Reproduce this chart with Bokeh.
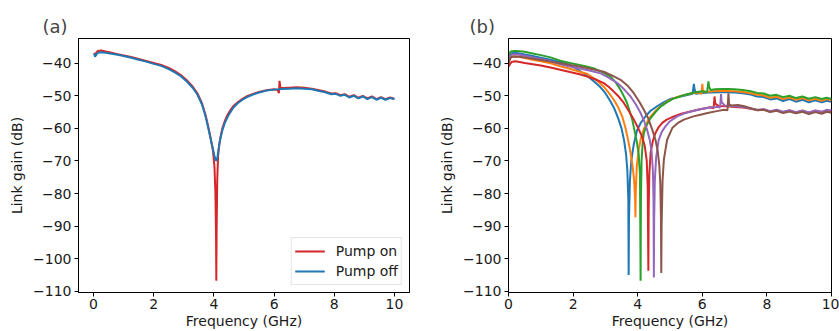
from bokeh.plotting import figure
from bokeh.layouts import row
from bokeh.models import FixedTicker, Range1d, Legend, LegendItem
from bokeh.embed import file_html
from bokeh.resources import INLINE

FONT = "DejaVu Sans"

# ---------------- data ----------------
x_ticks = [0, 2, 4, 6, 8, 10]
x_tick_labels = ["0", "2", "4", "6", "8", "10"]
y_ticks = [-110, -100, -90, -80, -70, -60, -50, -40]
y_tick_labels = ["\u2212110", "\u2212100", "\u221290", "\u221280", "\u221270", "\u221260", "\u221250", "\u221240"]

# panel (a)
a_off_x = [0.02, 0.05, 0.1, 0.15, 0.25, 0.4, 0.6, 0.8, 1.0, 1.25, 1.5, 1.75, 2.0, 2.25, 2.5, 2.7, 2.9, 3.1, 3.3,
           3.45, 3.6, 3.72, 3.82, 3.9, 3.97, 4.02, 4.06, 4.09, 4.12, 4.16, 4.21, 4.28, 4.36, 4.45, 4.55, 4.65, 4.8,
           4.95, 5.1, 5.3, 5.5, 5.75, 6.0, 6.25, 6.5, 6.75, 7.0, 7.25, 7.5, 7.7, 7.9, 8.05, 8.2, 8.35, 8.5, 8.65,
           8.8, 8.95, 9.1, 9.25, 9.4, 9.55, 9.7, 9.85, 10.0]
a_off_y = [-37.0, -38.0, -37.2, -36.8, -36.6, -36.8, -37.1, -37.4, -37.8, -38.3, -38.9, -39.5, -40.2, -40.8,
           -41.8, -42.8, -44.0, -45.6, -47.6, -49.6, -52.6, -56.2, -60.2, -63.6, -66.4, -68.6, -69.8, -69.9,
           -68.6, -66.0, -63.4, -60.6, -58.4, -56.6, -55.0, -53.6, -52.2, -51.2, -50.4, -49.6, -49.0, -48.4,
           -48.1, -47.9, -47.8, -47.7, -47.8, -48.0, -48.5, -48.9, -49.5, -49.4, -50.0, -49.7, -50.5, -50.0,
           -50.8, -50.2, -51.0, -50.4, -51.2, -50.6, -51.2, -50.7, -51.0]

a_on_x = [0.02, 0.05, 0.1, 0.15, 0.25, 0.4, 0.6, 0.8, 1.0, 1.25, 1.5, 1.75, 2.0, 2.25, 2.5, 2.7, 2.9, 3.1, 3.3,
          3.45, 3.6, 3.72, 3.82, 3.9, 3.97, 4.02, 4.05, 4.07, 4.08, 4.09, 4.11, 4.14, 4.18, 4.22, 4.28, 4.36,
          4.45, 4.55, 4.65, 4.8, 4.95, 5.1, 5.3, 5.5, 5.75, 6.0, 6.12, 6.16, 6.18, 6.21, 6.3, 6.5, 6.75, 7.0,
          7.25, 7.5, 7.7, 7.9, 8.05, 8.2, 8.35, 8.5, 8.65, 8.8, 8.95, 9.1, 9.25, 9.4, 9.55, 9.7, 9.85, 10.0]
a_on_y = [-36.8, -37.4, -36.6, -36.2, -36.1, -36.4, -36.8, -37.2, -37.6, -38.1, -38.7, -39.3, -39.9, -40.5,
          -41.4, -42.4, -43.6, -45.2, -47.2, -49.2, -52.2, -55.8, -59.8, -63.4, -67.0, -72.0, -80.0, -92.0,
          -106.8, -92.0, -76.0, -68.4, -64.8, -62.6, -60.0, -57.8, -55.9, -54.4, -53.1, -51.9, -50.9, -50.1,
          -49.4, -48.8, -48.3, -48.0, -48.2, -49.2, -45.4, -47.6, -47.6, -47.5, -47.4, -47.5, -47.8, -48.3,
          -48.7, -49.3, -49.2, -49.8, -49.5, -50.3, -49.8, -50.6, -50.0, -50.8, -50.2, -51.0, -50.4, -51.0,
          -50.5, -50.9]

# panel (b)
b_blue_x = [0.0, 0.05, 0.1, 0.2, 0.35, 0.5, 0.75, 1.0, 1.3, 1.6, 1.9, 2.2, 2.45, 2.65, 2.85, 3.0, 3.15, 3.28,
            3.4, 3.5, 3.58, 3.64, 3.68, 3.71, 3.72, 3.73, 3.76, 3.8, 3.88, 3.98, 4.1, 4.25, 4.4, 4.6, 4.8, 5.0,
            5.25, 5.5, 5.7, 5.74, 5.76, 5.8, 6.0, 6.25, 6.5, 6.75, 7.0, 7.25, 7.5, 7.7, 7.9, 8.1, 8.3, 8.5,
            8.7, 8.9, 9.1, 9.3, 9.5, 9.7, 9.85, 10.0]
b_blue_y = [-39.0, -37.5, -36.9, -36.8, -37.0, -37.3, -37.8, -38.3, -38.9, -39.6, -40.5, -42.3, -44.0, -45.6,
            -47.4, -49.2, -51.6, -54.0, -57.0, -60.0, -63.8, -68.0, -73.0, -82.0, -105.0, -88.0, -76.0, -70.0,
            -64.8, -60.6, -58.2, -56.2, -54.6, -53.2, -52.0, -51.0, -50.4, -49.8, -49.4, -46.3, -48.0, -49.4,
            -49.1, -49.0, -48.9, -48.9, -49.0, -49.2, -49.6, -50.2, -50.4, -51.1, -50.8, -51.6, -51.0, -51.8,
            -51.2, -52.0, -51.4, -52.0, -51.5, -51.8]

b_orange_x = [0.0, 0.05, 0.1, 0.2, 0.35, 0.5, 0.75, 1.0, 1.3, 1.6, 1.9, 2.2, 2.45, 2.7, 2.95, 3.1, 3.26, 3.4,
              3.52, 3.62, 3.7, 3.78, 3.84, 3.89, 3.92, 3.93, 3.94, 3.97, 4.03, 4.1, 4.19, 4.3, 4.4, 4.55, 4.7,
              4.9, 5.1, 5.35, 5.6, 5.85, 5.98, 6.0, 6.02, 6.1, 6.3, 6.5, 6.75, 7.0, 7.25, 7.5, 7.7, 7.9, 8.1,
              8.3, 8.5, 8.7, 8.9, 9.1, 9.3, 9.5, 9.7, 9.85, 10.0]
b_orange_y = [-40.0, -38.6, -38.0, -37.9, -38.1, -38.4, -38.9, -39.4, -40.0, -40.9, -41.7, -42.6, -43.3, -45.0,
              -47.2, -49.0, -51.2, -53.6, -56.3, -59.8, -63.4, -67.5, -71.5, -76.0, -82.0, -87.3, -80.0, -72.0,
              -66.5, -63.0, -60.2, -58.0, -56.3, -54.6, -53.3, -51.8, -50.8, -50.0, -49.4, -49.0, -49.4, -46.3,
              -48.4, -48.9, -48.6, -48.5, -48.5, -48.6, -48.8, -49.2, -49.7, -49.9, -50.6, -50.3, -51.0, -50.5,
              -51.2, -50.7, -51.4, -50.9, -51.5, -51.0, -51.3]

b_green_x = [0.0, 0.05, 0.1, 0.2, 0.35, 0.5, 0.75, 1.0, 1.3, 1.6, 1.9, 2.2, 2.45, 2.65, 2.9, 3.16, 3.32, 3.47,
             3.58, 3.67, 3.76, 3.83, 3.93, 3.98, 4.03, 4.07, 4.09, 4.1, 4.12, 4.15, 4.19, 4.28, 4.39, 4.55, 4.71,
             4.9, 5.07, 5.3, 5.5, 5.75, 6.0, 6.15, 6.19, 6.21, 6.25, 6.4, 6.6, 6.8, 7.0, 7.25, 7.5, 7.7, 7.9,
             8.1, 8.3, 8.5, 8.7, 8.9, 9.1, 9.3, 9.5, 9.7, 9.85, 10.0]
b_green_y = [-38.5, -36.6, -36.3, -36.2, -36.3, -36.5, -37.0, -37.5, -38.2, -39.2, -39.9, -40.5, -41.1, -41.6,
             -42.7, -44.1, -45.9, -48.2, -50.3, -52.2, -55.0, -57.3, -62.0, -64.5, -68.0, -74.0, -106.8, -82.0,
             -70.0, -65.0, -61.4, -59.0, -57.0, -55.0, -53.3, -52.0, -51.0, -50.2, -49.6, -49.0, -48.6, -48.8,
             -45.6, -47.2, -48.2, -48.0, -47.9, -47.9, -48.0, -48.2, -48.6, -49.1, -49.3, -50.0, -49.7, -50.4,
             -50.0, -50.7, -50.2, -50.9, -50.4, -51.0, -50.6, -51.0]

b_red_x = [0.0, 0.05, 0.1, 0.2, 0.35, 0.5, 0.75, 1.0, 1.3, 1.6, 1.9, 2.2, 2.44, 2.7, 2.95, 3.1, 3.26, 3.42, 3.57,
           3.72, 3.88, 4.0, 4.14, 4.22, 4.28, 4.31, 4.33, 4.34, 4.36, 4.4, 4.47, 4.55, 4.65, 4.76, 4.9, 5.12,
           5.35, 5.63, 5.9, 6.1, 6.25, 6.35, 6.38, 6.4, 6.5, 6.75, 7.0, 7.25, 7.5, 7.7, 7.9, 8.1, 8.3, 8.5, 8.7,
           8.9, 9.1, 9.3, 9.5, 9.7, 9.85, 10.0]
b_red_y = [-41.0, -40.2, -39.6, -39.4, -39.6, -39.9, -40.3, -40.7, -41.3, -42.0, -42.7, -43.4, -44.1, -45.0,
           -46.1, -47.2, -48.7, -50.3, -52.2, -54.6, -57.3, -59.6, -62.6, -65.5, -70.0, -78.0, -103.7, -85.0,
           -74.0, -67.5, -63.8, -61.4, -59.6, -58.3, -57.3, -56.3, -55.5, -54.8, -54.2, -53.8, -53.5, -53.8,
           -50.2, -52.4, -53.1, -53.2, -53.4, -53.6, -54.0, -54.4, -54.2, -54.8, -54.4, -55.0, -54.5, -55.1,
           -54.6, -55.2, -54.6, -55.0, -54.5, -54.7]

b_purple_x = [0.0, 0.05, 0.1, 0.2, 0.35, 0.5, 0.75, 1.0, 1.3, 1.6, 1.9, 2.2, 2.5, 2.85, 3.1, 3.37, 3.58, 3.78,
              3.94, 4.09, 4.2, 4.29, 4.37, 4.43, 4.47, 4.49, 4.5, 4.51, 4.53, 4.57, 4.65, 4.75, 4.86, 5.0, 5.22,
              5.45, 5.74, 6.0, 6.25, 6.45, 6.55, 6.58, 6.6, 6.7, 6.9, 7.1, 7.3, 7.5, 7.7, 7.9, 8.1, 8.3, 8.5, 8.7,
              8.9, 9.1, 9.3, 9.5, 9.7, 9.85, 10.0]
b_purple_y = [-39.5, -37.8, -37.3, -37.2, -37.4, -37.7, -38.2, -38.7, -39.4, -40.3, -41.0, -41.6, -42.2, -43.1,
              -44.4, -46.1, -48.0, -50.2, -52.6, -55.3, -57.8, -60.4, -63.4, -67.0, -73.0, -82.0, -105.8, -88.0,
              -76.0, -69.0, -63.5, -61.0, -59.4, -57.8, -56.3, -55.4, -54.6, -54.0, -53.6, -53.4, -53.6, -49.5,
              -52.0, -53.0, -53.1, -53.3, -53.5, -53.9, -54.3, -54.1, -54.7, -54.3, -54.9, -54.4, -55.0, -54.5,
              -55.1, -54.5, -54.9, -54.3, -54.5]

b_brown_x = [0.0, 0.05, 0.1, 0.2, 0.35, 0.5, 0.75, 1.0, 1.3, 1.6, 1.9, 2.2, 2.5, 2.95, 3.2, 3.47, 3.7, 3.88, 4.05,
             4.19, 4.32, 4.45, 4.55, 4.62, 4.67, 4.7, 4.72, 4.73, 4.74, 4.77, 4.81, 4.91, 5.07, 5.25, 5.43, 5.7,
             5.94, 6.2, 6.45, 6.67, 6.78, 6.81, 6.83, 6.9, 7.1, 7.3, 7.5, 7.7, 7.9, 8.1, 8.3, 8.5, 8.7, 8.9, 9.1,
             9.3, 9.5, 9.7, 9.85, 10.0]
b_brown_y = [-40.0, -38.5, -38.0, -37.9, -38.0, -38.2, -38.6, -39.0, -39.5, -40.0, -40.5, -41.0, -41.6, -42.6,
             -43.7, -45.1, -47.0, -49.2, -51.8, -54.3, -56.8, -60.4, -63.5, -67.0, -71.5, -77.0, -88.0, -104.4,
             -90.0, -76.0, -69.6, -63.5, -59.9, -58.3, -57.3, -56.4, -55.8, -55.2, -54.7, -54.3, -54.4, -49.2,
             -52.5, -53.0, -52.8, -53.2, -53.8, -54.4, -54.3, -55.0, -54.6, -55.3, -54.8, -55.4, -54.9, -55.6,
             -55.0, -55.5, -54.9, -55.2]

b_series = [
    (b_blue_x, b_blue_y, "#1f77b4"),
    (b_orange_x, b_orange_y, "#ff7f0e"),
    (b_green_x, b_green_y, "#2ca02c"),
    (b_red_x, b_red_y, "#d62728"),
    (b_purple_x, b_purple_y, "#9467bd"),
    (b_brown_x, b_brown_y, "#8c564b"),
]


def make_fig(title, x_range, width, border_left, border_right, title_offset):
    p = figure(width=width, height=331, output_backend="svg", toolbar_location=None,
               x_range=x_range, y_range=Range1d(-110.4, -32.4),
               min_border_left=border_left, min_border_right=border_right,
               min_border_top=38, min_border_bottom=38, title=title)
    p.title.text_font = FONT
    p.title.text_font_size = "18px"
    p.title.text_font_style = "normal"
    p.title.align = "left"
    p.title.offset = title_offset
    p.title.standoff = 4
    p.outline_line_color = "black"
    p.outline_line_width = 1
    p.outline_line_alpha = 1
    p.xgrid.visible = False
    p.ygrid.visible = False
    p.background_fill_color = "white"
    p.border_fill_color = "white"

    for ax in (p.xaxis, p.yaxis):
        ax.axis_line_color = "black"
        ax.major_tick_line_color = "black"
        ax.major_tick_out = 4
        ax.major_tick_in = 0
        ax.minor_tick_line_color = None
        ax.major_label_text_font = FONT
        ax.major_label_text_font_size = "14px"
        ax.major_label_text_color = "#1a1a1a"
        ax.axis_label_text_font = FONT
        ax.axis_label_text_font_size = "14px"
        ax.axis_label_text_font_style = "normal"
        ax.axis_label_text_color = "#1a1a1a"

    p.xaxis.ticker = FixedTicker(ticks=x_ticks)
    p.xaxis.major_label_overrides = {t: s for t, s in zip(x_ticks, x_tick_labels)}
    p.yaxis.ticker = FixedTicker(ticks=y_ticks)
    p.yaxis.major_label_overrides = {t: s for t, s in zip(y_ticks, y_tick_labels)}
    p.xaxis.axis_label = "Frequency (GHz)"
    p.yaxis.axis_label = "Link gain (dB)"
    p.xaxis.major_label_standoff = 2
    p.xaxis.axis_label_standoff = 1
    p.yaxis.major_label_standoff = 3
    p.yaxis.axis_label_standoff = 5
    return p


pa = make_fig("(a)", Range1d(-0.5, 10.5), 420, 78, 11, -36)
r_on = pa.line(a_on_x, a_on_y, line_color="#d62728", line_width=2)
r_off = pa.line(a_off_x, a_off_y, line_color="#1f77b4", line_width=2)
legend = Legend(items=[LegendItem(label="Pump on", renderers=[r_on]),
                       LegendItem(label="Pump off", renderers=[r_off])],
                location="bottom_right")
legend.label_text_font = FONT
legend.label_text_font_size = "14px"
legend.label_text_color = "#1a1a1a"
legend.glyph_width = 30
legend.glyph_height = 20
legend.label_height = 20
legend.label_standoff = 11
legend.spacing = 0
legend.padding = 3
legend.margin = 7
legend.border_line_color = "#cccccc"
legend.border_line_width = 1
legend.background_fill_alpha = 0.9
pa.add_layout(legend)

pb = make_fig("(b)", Range1d(0, 10), 419, 88, 8, -39)
for xs, ys, c in b_series:
    pb.line(xs, ys, line_color=c, line_width=2)

layout = row(pa, pb)
open("out.html", "w").write(file_html(layout, INLINE))
